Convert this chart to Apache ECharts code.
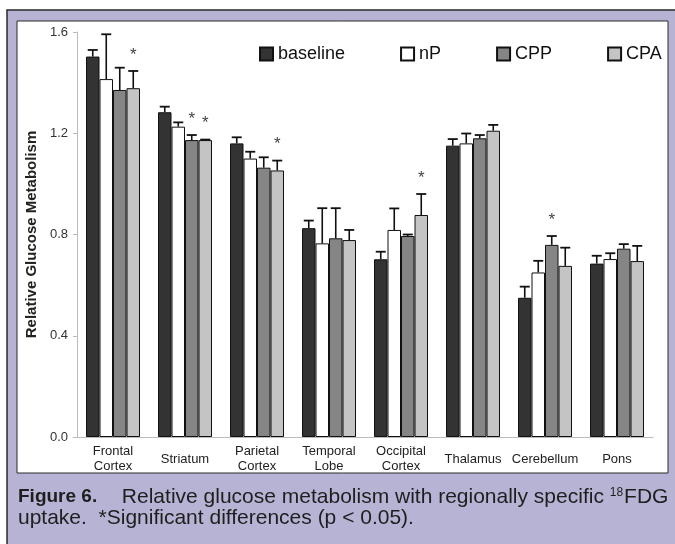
<!DOCTYPE html>
<html>
<head>
<meta charset="utf-8">
<script src="https://cdn.jsdelivr.net/npm/echarts@6/dist/echarts.min.js"></script>
<style>
html,body{margin:0;padding:0;background:#fff;}
#chart{width:675px;height:544px;}
</style>
</head>
<body>
<div id="chart"></div>
<script>
const categories = ['Frontal\nCortex','Striatum','Parietal\nCortex','Temporal\nLobe','Occipital\nCortex','Thalamus','Cerebellum','Pons'];
const seriesNames = ['baseline','nP','CPP','CPA'];
const baseline   = [1.503, 1.283, 1.160, 0.825, 0.702, 1.151, 0.550, 0.685];
const baselineSE = [0.026, 0.022, 0.024, 0.030, 0.030, 0.026, 0.044, 0.031];
const nP         = [1.414, 1.226, 1.100, 0.765, 0.818, 1.160, 0.650, 0.703];
const nPSE       = [0.177, 0.017, 0.027, 0.139, 0.085, 0.039, 0.046, 0.023];
const CPP        = [1.371, 1.173, 1.064, 0.785, 0.794, 1.180, 0.759, 0.744];
const CPPSE      = [0.088, 0.020, 0.041, 0.119, 0.006, 0.013, 0.035, 0.018];
const CPA        = [1.378, 1.173, 1.053, 0.778, 0.877, 1.210, 0.676, 0.695];
const CPASE      = [0.068, 0.002, 0.039, 0.040, 0.083, 0.023, 0.072, 0.060];
// significance stars: [category index, series index]
const stars = [[0,3],[1,2],[1,3],[2,3],[4,3],[6,2]];
const yTicks = [0, 0.4, 0.8, 1.2, 1.6];

const values = [baseline, nP, CPP, CPA];
const errors = [baselineSE, nPSE, CPPSE, CPASE];
const colors = ['#333333', '#ffffff', '#858585', '#c4c4c4'];
const FONT = '"Liberation Sans", Arial, Helvetica, sans-serif';

const chart = echarts.init(document.getElementById('chart'));

const barSeries = seriesNames.map((n, i) => ({
  name: n,
  type: 'bar',
  data: values[i],
  barGap: '0%',
  barCategoryGap: '25%',
  itemStyle: { color: colors[i], borderColor: '#111', borderWidth: 1 },
  z: 2
}));

const errSeries = seriesNames.map((n, si) => ({
  name: n + '_err',
  type: 'custom',
  z: 5,
  silent: true,
  data: values[si].map((v, ci) => [ci, v + errors[si][ci], v, stars.some(s => s[0] === ci && s[1] === si) ? 1 : 0]),
  renderItem: function (params, api) {
    const ci = api.value(0), top = api.value(1), val = api.value(2), star = api.value(3);
    const catW = api.size([1, 0])[0];
    const barW = catW * 0.75 / 4;
    const off = -catW * 0.375 + barW * (si + 0.5);
    const p0 = api.coord([ci, val]);
    const p1 = api.coord([ci, top]);
    const x = p0[0] + off;
    const children = [
      { type: 'line', shape: { x1: x, y1: p0[1], x2: x, y2: p1[1] }, style: { stroke: '#111', lineWidth: 1.6 } },
      { type: 'line', shape: { x1: x - 5, y1: p1[1], x2: x + 5, y2: p1[1] }, style: { stroke: '#111', lineWidth: 1.8 } }
    ];
    if (star) {
      children.push({ type: 'text', style: { text: '*', x: x, y: p1[1] - 16, align: 'center', verticalAlign: 'middle', font: '17px ' + FONT, fill: '#444' } });
    }
    return { type: 'group', children: children };
  }
}));

const option = {
  animation: false,
  textStyle: { fontFamily: FONT },
  graphic: [
    { type: 'rect', z: -10, shape: { x: 7, y: 10, width: 700, height: 600 }, style: { fill: '#b7b3d4', stroke: '#2a2a2a', lineWidth: 1.5 } },
    { type: 'rect', z: -9, shape: { x: 17, y: 21, width: 651, height: 452 }, style: { fill: '#ffffff', stroke: '#2a2a2a', lineWidth: 1 } },
    { type: 'text', z: 10, style: {
        x: 18, y: 497, verticalAlign: 'middle',
        text: '{b|Figure 6.}  Relative glucose metabolism with regionally specific {sup|18}FDG',
        font: '21px ' + FONT, fill: '#1e1e1e',
        rich: { b: { fontWeight: 'bold', fontSize: 19, fontFamily: FONT, fill: '#1e1e1e', padding: [0, 13, 0, 0] }, sup: { fontSize: 12, fontFamily: FONT, verticalAlign: 'top', padding: [0,1,0,0] } }
    } },
    { type: 'text', z: 10, style: {
        x: 18, y: 518, verticalAlign: 'middle',
        text: 'uptake.  *Significant differences (p < 0.05).',
        font: '21px ' + FONT, fill: '#1e1e1e'
    } }
  ],
  legend: {
    data: seriesNames,
    left: 259, top: 45, width: 440, padding: 0,
    itemWidth: 13, itemHeight: 13, itemGap: 55,
    icon: 'rect',
    textStyle: { fontSize: 18, color: '#111', fontFamily: FONT }
  },
  grid: { left: 77, right: 22, top: 32, bottom: 107, containLabel: false },
  xAxis: {
    type: 'category',
    data: categories,
    axisLine: { lineStyle: { color: '#bbbbbb', width: 1 } },
    axisTick: { show: false },
    axisLabel: { fontSize: 13, color: '#222', lineHeight: 15, margin: 22, verticalAlign: 'middle', interval: 0, fontFamily: FONT }
  },
  yAxis: {
    type: 'value',
    min: 0, max: 1.6, interval: 0.4,
    name: 'Relative Glucose Metabolism',
    nameLocation: 'middle',
    nameGap: 38,
    nameTextStyle: { fontSize: 15, fontWeight: 'bold', color: '#222', fontFamily: FONT },
    axisLine: { show: true, lineStyle: { color: '#bbbbbb', width: 1 } },
    axisTick: { show: true, length: 4, lineStyle: { color: '#bbbbbb' } },
    splitLine: { show: false },
    axisLabel: { fontSize: 13, color: '#333', margin: 9, fontFamily: FONT,
      formatter: v => (yTicks.indexOf(Math.round(v * 10) / 10) >= 0 ? v.toFixed(1) : '') }
  },
  series: barSeries.concat(errSeries)
};
chart.setOption(option);
</script>
</body>
</html>
